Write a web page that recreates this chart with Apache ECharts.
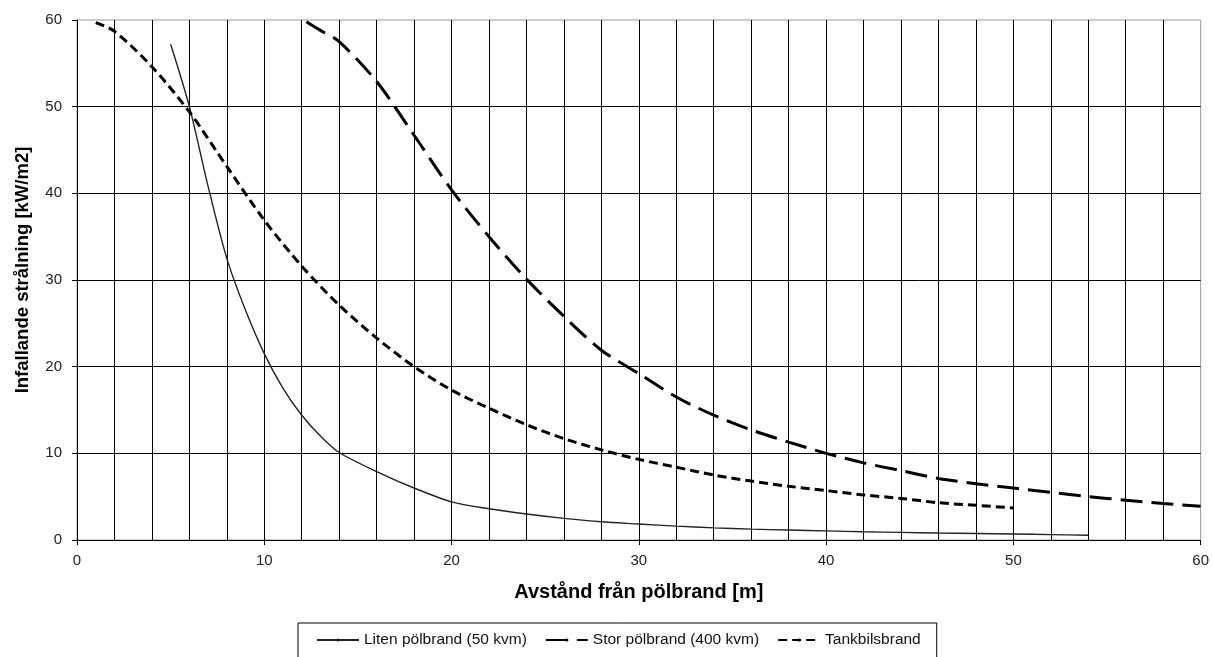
<!DOCTYPE html>
<html>
<head>
<meta charset="utf-8">
<script src="https://cdn.jsdelivr.net/npm/echarts@6/dist/echarts.min.js"></script>
<style>
html,body{margin:0;padding:0;background:#fff;}
#chart{width:1212px;height:657px;}
</style>
</head>
<body>
<div id="chart"></div>
<script>
// Data
const seriesNames = ['Liten pölbrand (50 kvm)', 'Stor pölbrand (400 kvm)', 'Tankbilsbrand'];

const litenX = [5, 6, 7, 8, 9, 10, 11, 12, 13, 14, 16, 18, 20, 22, 24, 26, 28, 30, 32, 34, 36, 38, 40, 42, 44, 46, 48, 50, 52, 54];
const litenY = [57.2, 50.0, 40.8, 32.5, 26.5, 21.5, 17.5, 14.4, 12.0, 10.1, 7.9, 6.0, 4.4, 3.6, 3.0, 2.5, 2.1, 1.85, 1.6, 1.4, 1.25, 1.15, 1.05, 0.95, 0.88, 0.8, 0.75, 0.7, 0.62, 0.55];

const storX = [12.25, 13, 14, 16, 18, 20, 22, 24, 26, 28, 30, 32, 34, 36, 38, 40, 42, 44, 46, 48, 50, 52, 54, 56, 58, 60];
const storY = [59.8, 58.8, 57.5, 52.9, 46.7, 40.4, 35.0, 30.1, 25.8, 21.9, 19.2, 16.5, 14.4, 12.7, 11.3, 10.0, 8.9, 8.0, 7.1, 6.5, 6.0, 5.5, 5.0, 4.6, 4.2, 3.9];

const tankX = [1, 2, 4, 6, 8, 10, 12, 14, 16, 18, 20, 22, 24, 26, 28, 30, 32, 34, 36, 38, 40, 42, 44, 46, 48, 50];
const tankY = [59.7, 58.7, 54.6, 49.4, 43.1, 36.9, 31.6, 27.1, 23.3, 20.0, 17.3, 15.2, 13.3, 11.7, 10.4, 9.3, 8.4, 7.5, 6.8, 6.2, 5.7, 5.2, 4.8, 4.3, 4.0, 3.7];

const xAxisTitle = 'Avstånd från pölbrand [m]';
const yAxisTitle = 'Infallande strålning [kW/m2]';

function pairs(xs, ys) { return xs.map((x, i) => [x, ys[i]]); }

const chart = echarts.init(document.getElementById('chart'), null, {renderer: 'canvas'});
const FONT = '"Liberation Sans", Arial, sans-serif';

chart.setOption({
  animation: false,
  backgroundColor: '#fff',
  textStyle: {fontFamily: FONT},
  grid: {left: 77, right: 11, top: 20, bottom: 117, show: true, borderColor: '#9a9a9a', borderWidth: 1},
  legend: {
    left: 298, top: 623,
    orient: 'horizontal',
    data: seriesNames,
    borderColor: '#000', borderWidth: 1,
    padding: [9, 16, 12, 18],
    itemGap: 18,
    itemWidth: 42, itemHeight: 4,
    textStyle: {fontSize: 15.5, color: '#111', fontFamily: FONT},
    selectedMode: false
  },
  xAxis: {
    type: 'value', min: 0, max: 60, interval: 10,
    name: xAxisTitle, nameLocation: 'middle', nameGap: 42,
    nameTextStyle: {fontSize: 20, fontWeight: 'bold', color: '#000', fontFamily: FONT},
    axisLine: {show: true, onZero: false, lineStyle: {color: '#000', width: 1}},
    axisTick: {show: true, length: 5, lineStyle: {color: '#000'}},
    axisLabel: {fontSize: 15, color: '#222', margin: 13, fontFamily: FONT},
    splitLine: {show: true, showMaxLine: false, lineStyle: {color: '#000', width: 1}},
    minorTick: {show: false, splitNumber: 5},
    minorSplitLine: {show: true, lineStyle: {color: '#000', width: 1}}
  },
  yAxis: {
    type: 'value', min: 0, max: 60, interval: 10,
    name: yAxisTitle, nameLocation: 'middle', nameGap: 45,
    nameTextStyle: {fontSize: 18.5, fontWeight: 'bold', color: '#000', fontFamily: FONT, padding: [0, 0, 0, 20]},
    axisLine: {show: true, onZero: false, lineStyle: {color: '#000', width: 1}},
    axisTick: {show: true, length: 5, lineStyle: {color: '#000'}},
    axisLabel: {fontSize: 15, color: '#222', margin: 15, fontFamily: FONT},
    splitLine: {show: true, showMaxLine: false, lineStyle: {color: '#000', width: 1}}
  },
  series: [
    {
      name: seriesNames[0], type: 'line', data: pairs(litenX, litenY),
      showSymbol: false, symbol: 'none', smooth: 0.3,
      lineStyle: {color: '#222', width: 1.4, type: 'solid'},
      itemStyle: {color: '#222'}
    },
    {
      name: seriesNames[1], type: 'line', data: pairs(storX, storY),
      showSymbol: false, symbol: 'none', smooth: 0.3,
      lineStyle: {color: '#000', width: 3, type: [22, 9]},
      itemStyle: {color: '#000'}
    },
    {
      name: seriesNames[2], type: 'line', data: pairs(tankX, tankY),
      showSymbol: false, symbol: 'none', smooth: 0.3,
      lineStyle: {color: '#000', width: 3, type: [9, 5]},
      itemStyle: {color: '#000'}
    }
  ]
});
</script>
</body>
</html>
